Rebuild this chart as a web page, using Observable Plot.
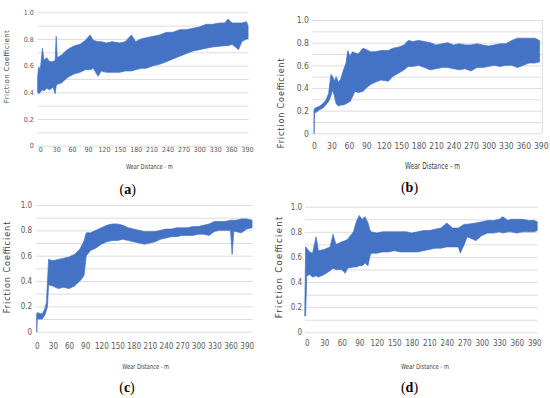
<!DOCTYPE html>
<html><head><meta charset="utf-8">
<script src="https://cdn.jsdelivr.net/npm/d3@7"></script>
<script src="https://cdn.jsdelivr.net/npm/@observablehq/plot@0.6"></script>
<style>
body{margin:0;background:#fff;}
#wrap{position:relative;width:550px;height:398px;overflow:hidden;background:#fff;}
#wrap svg{position:absolute;}
.plab{position:absolute;font-family:"Liberation Serif","DejaVu Serif",serif;font-size:14px;color:#000;transform:translate(-50%,-50%);white-space:nowrap;line-height:1;}
</style></head><body><div id="wrap"></div>
<script>
// ---- shared axis values / labels ----
const xTicks = [0,30,60,90,120,150,180,210,240,270,300,330,360,390];
const yTicks = [0,0.2,0.4,0.6,0.8,1.0];
const yTickLabels = ["0","0.2","0.4","0.6","0.8","1.0"];
const gridY = [0,0.1,0.2,0.3,0.4,0.5,0.6,0.7,0.8,0.9,1.0];
const yTitle = "Friction Coefficient";
const xTitle = "Wear Distance - m";
const panelLetters = ["a","b","c","d"];

// ---- panel (a): envelope of the noisy trace (distance m, low, high) ----
const aDist = [-5,-3,0,4,7,12,18,24,28,30,32,40,48,55,65,75,85,94,100,109,115,125,135,150,160,172,180,190,200,213,225,238,250,263,275,288,300,313,325,338,348,354,362,374,380,389,392];
const aLow  = [.40,.39,.40,.42,.41,.43,.42,.44,.39,.45,.46,.47,.50,.52,.54,.55,.57,.57,.58,.52,.56,.55,.55,.55,.56,.56,.57,.58,.58,.60,.61,.63,.65,.67,.69,.71,.72,.73,.74,.745,.75,.75,.76,.72,.78,.80,.80];
const aHigh = [.52,.59,.57,.73,.64,.66,.63,.63,.64,.82,.66,.68,.71,.73,.75,.76,.79,.83,.79,.78,.78,.77,.78,.77,.78,.83,.78,.80,.81,.82,.83,.85,.85,.87,.87,.88,.89,.91,.91,.92,.92,.95,.92,.92,.92,.93,.90];

// ---- panel (b) ----
const bDist = [0,1,5,10,15,20,25,29,32,35,38,42,46,50,55,58,62,66,70,76,84,90,97,105,115,128,135,145,155,162,170,180,190,200,210,220,230,240,250,260,270,280,290,300,310,320,330,340,350,360,370,380,388];
const bLow  = [0,.18,.19,.21,.22,.25,.28,.33,.38,.33,.26,.24,.25,.25,.26,.27,.28,.32,.37,.36,.37,.40,.43,.45,.47,.46,.50,.53,.56,.59,.59,.60,.58,.56,.57,.58,.58,.57,.56,.57,.55,.58,.58,.59,.60,.59,.60,.60,.58,.60,.62,.62,.63];
const bHigh = [.20,.22,.23,.24,.26,.29,.35,.52,.50,.46,.50,.45,.48,.55,.62,.73,.68,.72,.71,.70,.75,.74,.72,.72,.73,.73,.75,.76,.78,.82,.81,.82,.81,.80,.78,.79,.80,.78,.79,.78,.78,.79,.78,.77,.78,.79,.79,.82,.84,.84,.84,.84,.82];

// ---- panel (c) ----
const cDist = [0,1,10,15,18,20,22,30,40,50,60,70,80,86,88,92,100,110,120,130,140,150,160,170,180,190,200,210,220,230,240,250,260,270,280,290,300,310,320,330,340,350,360,363,366,370,380,390,400];
const cLow  = [0,.10,.10,.13,.17,.20,.37,.36,.34,.35,.34,.36,.40,.43,.45,.60,.64,.66,.69,.71,.72,.72,.73,.72,.71,.70,.69,.70,.71,.73,.74,.75,.75,.76,.76,.76,.77,.77,.76,.79,.80,.80,.80,.61,.79,.79,.78,.81,.82];
const cHigh = [.14,.15,.14,.18,.23,.40,.57,.56,.57,.58,.59,.61,.65,.70,.72,.78,.78,.80,.82,.84,.85,.85,.84,.82,.81,.80,.79,.79,.79,.80,.81,.81,.82,.82,.82,.83,.83,.84,.85,.87,.87,.87,.88,.88,.88,.88,.89,.89,.88];

// ---- panel (d) ----
const dDist = [-3,-2,0,5,10,16,20,30,40,45,50,60,66,70,80,85,90,95,100,105,108,110,120,130,140,150,160,170,180,190,200,210,220,230,240,250,260,263,270,275,290,300,310,320,330,336,345,350,360,370,380,390,395];
const dLow  = [.13,.13,.45,.46,.44,.45,.44,.46,.49,.51,.50,.50,.47,.51,.52,.52,.53,.53,.55,.53,.60,.63,.63,.64,.64,.65,.64,.64,.64,.64,.65,.66,.67,.67,.68,.68,.68,.63,.70,.76,.73,.77,.79,.79,.80,.79,.80,.80,.79,.80,.80,.80,.81];
const dHigh = [.30,.68,.67,.64,.63,.76,.65,.66,.68,.78,.70,.72,.73,.74,.80,.88,.93,.90,.92,.87,.82,.80,.79,.80,.80,.80,.80,.80,.79,.80,.81,.81,.82,.83,.87,.83,.83,.84,.86,.86,.87,.88,.89,.89,.90,.92,.89,.90,.90,.90,.89,.89,.88];

const series = [[aDist,aLow,aHigh],[bDist,bLow,bHigh],[cDist,cLow,cHigh],[dDist,dLow,dHigh]];

// ---- layout per panel ----
const layout = [
  {left:0,   top:0,   h:200, mt:12.3, mb:54.3, ml:37.65, mr:26.4, xDom:[-5,393], fs:7,   xPad:1,   yPad:4.3, border:false,
   yT:{x:7.3,y:66.7,len:73,fs:7},  xT:{x:149.3,y:166.7,len:46.7,fs:7}, pl:{x:127.7,y:190}},
  {left:275, top:0,   h:200, mt:20,   mb:66.7, ml:37.3,  mr:8.1,  xDom:[-3,392], fs:8.5, xPad:9.3, yPad:4,   border:true,
   yT:{x:6,y:103.3,len:90,fs:8},   xT:{x:157.5,y:166.7,len:55,fs:8},   pl:{x:134.5,y:188.3}},
  {left:0,   top:200, h:198, mt:5,    mb:66.3, ml:36.2,  mr:22.4, xDom:[-1,401], fs:8,   xPad:11,  yPad:4.5, border:false,
   yT:{x:7,y:67.5,len:91.7,fs:8},  xT:{x:145.7,y:166.7,len:46.7,fs:7}, pl:{x:127,y:188.3}},
  {left:275, top:200, h:198, mt:6.7,  mb:65.7, ml:30,    mr:12.2, xDom:[-3,396], fs:8,   xPad:8,   yPad:3.3, border:false,
   yT:{x:4,y:67.5,len:101.7,fs:8.5},xT:{x:150,y:166.7,len:48,fs:7.2}, pl:{x:134.5,y:188.3}}
];

const wrap = document.getElementById("wrap");
const blue = "#4472c4";

layout.forEach((c, i) => {
  const [dist, low, high] = series[i];
  const rows = dist.map((d, k) => ({d, lo: low[k], hi: high[k]}));
  const marks = [
    Plot.ruleY(gridY, {stroke: "#d9d9d9", strokeWidth: 0.9}),
    Plot.areaY(rows, {x: "d", y1: "lo", y2: "hi", fill: blue, stroke: blue, strokeWidth: 0.7, curve: "linear"})
  ];
  if (c.border) marks.push(Plot.ruleX([c.xDom[1]], {stroke: "#d9d9d9", strokeWidth: 0.9}));
  const svg = Plot.plot({
    width: 275, height: c.h,
    marginTop: c.mt, marginBottom: c.mb, marginLeft: c.ml, marginRight: c.mr,
    x: {domain: c.xDom, ticks: xTicks, tickSize: 0, tickPadding: c.xPad, label: null},
    y: {domain: [0, 1], ticks: yTicks, tickFormat: d => yTickLabels[yTicks.indexOf(d)], tickSize: 0, tickPadding: c.yPad, label: null},
    style: {fontFamily: "'Liberation Sans Narrow','DejaVu Sans Condensed',sans-serif", fontSize: c.fs + "px", color: "#595959", background: "none", overflow: "visible"},
    marks
  });
  svg.style.left = c.left + "px";
  svg.style.top = c.top + "px";
  const s = d3.select(svg);
  s.append("text")
    .attr("transform", `translate(${c.yT.x},${c.yT.y}) rotate(-90)`)
    .attr("text-anchor", "middle").attr("dominant-baseline", "central")
    .attr("textLength", c.yT.len).attr("lengthAdjust", "spacing")
    .attr("font-family", "'DejaVu Sans',sans-serif").attr("font-size", c.yT.fs)
    .attr("fill", "#404040")
    .text(yTitle);
  s.append("text")
    .attr("x", c.xT.x).attr("y", c.xT.y)
    .attr("text-anchor", "middle").attr("dominant-baseline", "central")
    .attr("textLength", c.xT.len).attr("lengthAdjust", "spacingAndGlyphs")
    .attr("font-family", "'Liberation Sans Narrow','DejaVu Sans Condensed',sans-serif").attr("font-size", c.xT.fs)
    .attr("fill", "#404040")
    .text(xTitle);
  wrap.appendChild(svg);
  const lab = document.createElement("div");
  lab.className = "plab";
  lab.style.left = (c.left + c.pl.x) + "px";
  lab.style.top = (c.top + c.pl.y) + "px";
  lab.innerHTML = "(<b>" + panelLetters[i] + "</b>)";
  wrap.appendChild(lab);
});
</script></body></html>
